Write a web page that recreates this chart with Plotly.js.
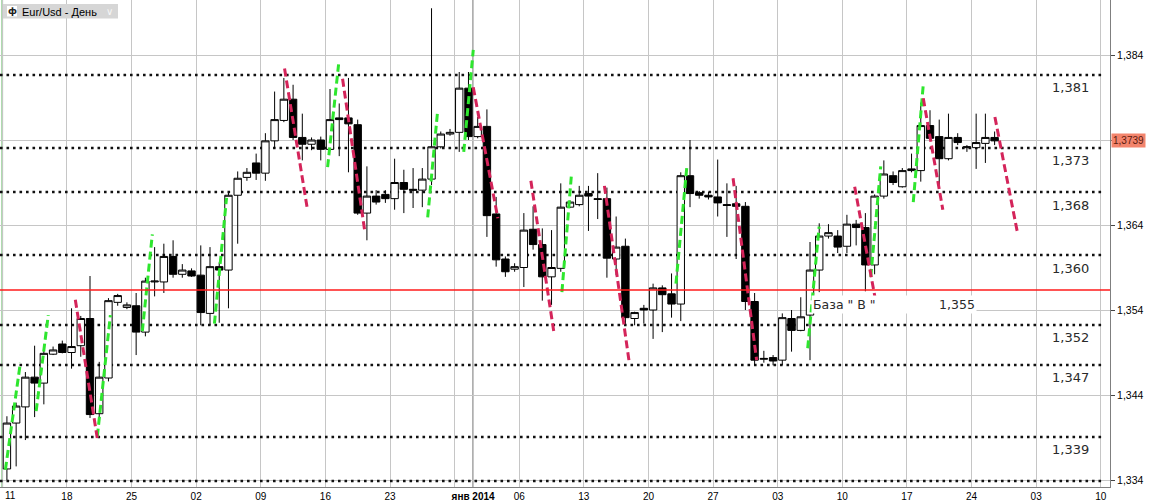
<!DOCTYPE html>
<html>
<head>
<meta charset="utf-8">
<script src="https://cdn.plot.ly/plotly-3.0.1.min.js"></script>
<style>html,body{margin:0;padding:0;background:#fff;}#chart{width:1150px;height:504px;}</style>
</head>
<body>
<div id="chart"></div>
<script>
// ---- data: daily EUR/USD candles from 2013-11-11 (one per calendar day) ----
const firstDay = [2013, 10, 11]; // 11 Nov 2013
const open  = [1.3353,1.3407,1.3426,1.3461,1.3454,1.3488,1.3500,1.3490,1.3498,1.3530,
               1.3418,1.3460,1.3549,1.3543,1.3545,1.3514,1.3573,1.3573,1.3603,1.3582,
               1.3586,1.3581,1.3536,1.3591,1.3587,1.3675,1.3696,1.3713,1.3701,1.3739,
               1.3763,1.3788,1.3743,1.3735,1.3740,1.3729,1.3766,1.3766,1.3758,1.3654,
               1.3674,1.3676,1.3671,1.3690,1.3682,1.3681,1.3694,1.3732,1.3747,1.3749,
               1.3801,1.3744,1.3756,1.3653,1.3600,1.3588,1.3590,1.3635,1.3617,1.3579,
               1.3589,1.3661,1.3664,1.3677,1.3671,1.3671,1.3600,1.3615,1.3530,1.3542,
               1.3540,1.3566,1.3559,1.3547,1.3698,1.3678,1.3675,1.3673,1.3664,1.3665,
               1.3662,1.3550,1.3482,1.3484,1.3481,1.3530,1.3516,1.3534,1.3587,1.3627,
               1.3627,1.3615,1.3641,1.3637,1.3593,1.3674,1.3698,1.3685,1.3706,1.3704,
               1.3757,1.3744,1.3718,1.3743,1.3731,1.3731,1.3736,1.3743];
const high  = [1.3415,1.3431,1.3467,1.3498,1.3493,1.3497,1.3504,1.3542,1.3533,1.3580,
               1.3479,1.3554,1.3559,1.3549,1.3560,1.3578,1.3614,1.3618,1.3622,1.3594,
               1.3589,1.3616,1.3614,1.3596,1.3678,1.3703,1.3707,1.3724,1.3748,1.3797,
               1.3813,1.3805,1.3771,1.3743,1.3744,1.3800,1.3783,1.3813,1.3764,1.3709,
               1.3681,1.3681,1.3718,1.3705,1.3707,1.3707,1.3895,1.3750,1.3753,1.3820,
               1.3820,1.3767,1.3776,1.3673,1.3603,1.3595,1.3654,1.3662,1.3636,1.3634,
               1.3689,1.3669,1.3686,1.3686,1.3701,1.3684,1.3650,1.3624,1.3538,1.3546,
               1.3571,1.3569,1.3583,1.3702,1.3740,1.3680,1.3679,1.3717,1.3689,1.3686,
               1.3667,1.3560,1.3492,1.3487,1.3536,1.3540,1.3555,1.3620,1.3642,1.3641,
               1.3634,1.3652,1.3646,1.3654,1.3676,1.3716,1.3703,1.3707,1.3724,1.3784,
               1.3775,1.3764,1.3771,1.3748,1.3734,1.3771,1.3771,1.3750];
const low   = [1.3340,1.3356,1.3387,1.3414,1.3429,1.3487,1.3489,1.3471,1.3485,1.3413,
               1.3407,1.3456,1.3545,1.3541,1.3487,1.3509,1.3556,1.3560,1.3578,1.3578,
               1.3579,1.3522,1.3522,1.3525,1.3542,1.3618,1.3692,1.3693,1.3692,1.3730,
               1.3761,1.3740,1.3716,1.3728,1.3716,1.3728,1.3721,1.3702,1.3652,1.3622,
               1.3664,1.3666,1.3658,1.3654,1.3660,1.3661,1.3687,1.3730,1.3745,1.3726,
               1.3740,1.3742,1.3626,1.3591,1.3579,1.3585,1.3567,1.3611,1.3551,1.3546,
               1.3585,1.3660,1.3662,1.3633,1.3647,1.3578,1.3581,1.3522,1.3522,1.3524,
               1.3506,1.3514,1.3531,1.3527,1.3661,1.3671,1.3670,1.3650,1.3626,1.3600,
               1.3540,1.3475,1.3478,1.3475,1.3475,1.3491,1.3515,1.3481,1.3561,1.3624,
               1.3607,1.3607,1.3616,1.3562,1.3582,1.3671,1.3687,1.3684,1.3702,1.3691,
               1.3740,1.3685,1.3716,1.3734,1.3726,1.3706,1.3713,1.3734];
const close = [1.3407,1.3427,1.3461,1.3454,1.3489,1.3493,1.3490,1.3497,1.3530,1.3417,
               1.3461,1.3551,1.3557,1.3546,1.3514,1.3574,1.3574,1.3603,1.3582,1.3587,
               1.3580,1.3537,1.3591,1.3587,1.3675,1.3695,1.3702,1.3701,1.3739,1.3764,
               1.3788,1.3743,1.3735,1.3740,1.3729,1.3764,1.3764,1.3759,1.3654,1.3674,
               1.3667,1.3671,1.3690,1.3682,1.3681,1.3694,1.3732,1.3747,1.3749,1.3801,
               1.3744,1.3756,1.3651,1.3599,1.3585,1.3591,1.3634,1.3617,1.3579,1.3590,
               1.3661,1.3667,1.3675,1.3674,1.3670,1.3601,1.3614,1.3531,1.3537,1.3540,
               1.3566,1.3558,1.3547,1.3698,1.3677,1.3675,1.3673,1.3666,1.3663,1.3662,
               1.3550,1.3481,1.3483,1.3480,1.3531,1.3516,1.3532,1.3587,1.3627,1.3631,
               1.3614,1.3641,1.3637,1.3593,1.3674,1.3700,1.3690,1.3704,1.3704,1.3757,
               1.3742,1.3718,1.3743,1.3737,1.3732,1.3737,1.3743,1.3739];

// green (up) dashed segments: [fromTime, fromPrice, toTime, toPrice]
const greenSegments = [
  ['2013-11-11 08:00',1.3352,'2013-11-12 23:00',1.3478],
  ['2013-11-14 16:00',1.3421,'2013-11-15 23:30',1.3534],
  ['2013-11-21 07:00',1.3391,'2013-11-22 17:00',1.3534],
  ['2013-11-26 04:00',1.3515,'2013-11-27 06:00',1.3629],
  ['2013-12-03 23:30',1.3524,'2013-12-05 07:00',1.3672],
  ['2013-12-16 05:45',1.3708,'2013-12-17 10:20',1.3829],
  ['2013-12-27 02:00',1.3649,'2013-12-28 04:00',1.3775],
  ['2013-12-30 23:45',1.3726,'2014-01-01 00:30',1.3846],
  ['2014-01-10 15:00',1.3561,'2014-01-11 15:30',1.3698],
  ['2014-01-22 23:30',1.3571,'2014-01-24 04:20',1.3711],
  ['2014-02-06 06:00',1.3495,'2014-02-07 11:45',1.3638],
  ['2014-02-13 02:00',1.3579,'2014-02-14 03:50',1.3709],
  ['2014-02-17 16:30',1.3667,'2014-02-18 18:30',1.3805]
];
// crimson (down) dashed segments
const redSegments = [
  ['2013-11-18 21:50',1.3552,'2013-11-21 07:00',1.3389],
  ['2013-12-11 13:50',1.3824,'2013-12-14 00:20',1.3661],
  ['2013-12-17 20:40',1.3812,'2013-12-20 06:00',1.3634],
  ['2014-01-01 00:30',1.3802,'2014-01-03 16:20',1.3648],
  ['2014-01-07 06:15',1.3692,'2014-01-09 18:00',1.3514],
  ['2014-01-15 05:30',1.3686,'2014-01-17 21:10',1.3481],
  ['2014-01-29 04:00',1.3695,'2014-01-31 17:15',1.3481],
  ['2014-02-11 08:10',1.3685,'2014-02-13 16:10',1.3547],
  ['2014-02-18 18:30',1.3789,'2014-02-20 21:20',1.3658],
  ['2014-02-26 12:45',1.3767,'2014-02-28 23:20',1.3631]
];

// horizontal dotted levels and their labels
const levels      = [1.38165, 1.37306, 1.36788, 1.36047, 1.35224, 1.34753, 1.33906, 1.33388];
const levelLabels = ['1,381', '1,373', '1,368', '1,360', '1,352', '1,347', '1,339', ''];
const baseLevel = 1.35635;
const baseLabel = 'База " В "';
const baseValue = '1,355';
const lastPrice = 1.3739;
const lastPriceLabel = '1,3739';

// price axis ticks
const priceTicks  = [1.334, 1.344, 1.354, 1.364, 1.374, 1.384];
const priceLabels = ['1,334', '1,344', '1,354', '1,364', '', '1,384'];

// x-axis ticks (Mondays) and labels
const weekTicks  = ['2013-11-11','2013-11-18','2013-11-25','2013-12-02','2013-12-09','2013-12-16',
                    '2013-12-23','2013-12-30','2014-01-06','2014-01-13','2014-01-20','2014-01-27',
                    '2014-02-03','2014-02-10','2014-02-17','2014-02-24','2014-03-03','2014-03-10'];
const weekLabels = ['','18','25','02','09','16','23','','06','13','20','27','03','10','17','24','03','10'];
const firstLabel = '11';
const yearTick = '2014-01-01';
const yearLabel = 'янв 2014';
const chartTitle = 'Eur/Usd - День';

// ---- build ----
const dates = open.map((_, i) => {
  const d = new Date(Date.UTC(firstDay[0], firstDay[1], firstDay[2] + i, 12));
  return d.toISOString().slice(0, 16).replace('T', ' ');
});

function segTrace(segs, color) {
  const x = [], y = [];
  segs.forEach(s => { x.push(s[0], s[2], null); y.push(s[1], s[3], null); });
  return {type:'scatter', mode:'lines', x, y, hoverinfo:'skip',
          line:{color, width:3, dash:'8px,4px'}, connectgaps:false};
}

const xStart = '2013-11-10 18:00', xEnd = '2014-03-11 00:00', dotEnd = '2014-03-10 11:00';

const traces = [
  {type:'candlestick', x:dates, open, high, low, close, hoverinfo:'skip',
   whiskerwidth:0,
   increasing:{line:{color:'#000', width:1}, fillcolor:'#ffffff'},
   decreasing:{line:{color:'#000', width:1}, fillcolor:'#000000'}},
  segTrace(greenSegments, '#2ee62e'),
  segTrace(redSegments, '#d4245a')
];

const P = (px) => px / 1110;          // plot-area fraction helpers for the title badge
const Q = (py) => 1 - py / 487;

const shapes = [];
levels.forEach(v => shapes.push({type:'line', xref:'x', yref:'y', x0:xStart, x1:dotEnd, y0:v, y1:v,
  layer:'between', line:{color:'#111', width:2.6, dash:'2.6px,3.9px'}}));
shapes.push({type:'line', xref:'x', yref:'paper', x0:yearTick, x1:yearTick, y0:0, y1:1,
  layer:'between', line:{color:'#737373', width:1.3}});
shapes.push({type:'line', xref:'x', yref:'paper', x0:weekTicks[0], x1:weekTicks[0], y0:0, y1:1,
  layer:'between', line:{color:'#4cb04c', width:1.5}});
shapes.push({type:'line', xref:'paper', yref:'y', x0:0, x1:1, y0:baseLevel, y1:baseLevel,
  layer:'above', line:{color:'#ff1a1a', width:1.4}});
// title badge background and icon square
shapes.push({type:'rect', xref:'paper', yref:'paper', x0:P(3), x1:P(118), y0:Q(18.5), y1:Q(4),
  layer:'above', line:{width:0}, fillcolor:'#d6d6d6'});
shapes.push({type:'rect', xref:'paper', yref:'paper', x0:P(7), x1:P(17), y0:Q(16.5), y1:Q(6),
  layer:'above', line:{width:0}, fillcolor:'#ffffff'});

const lblFont = {family:'DejaVu Sans, Verdana, sans-serif', size:13, color:'#2a2a2a'};
const annotations = [];
levels.forEach((v, k) => {
  if (!levelLabels[k]) return;
  annotations.push({xref:'paper', yref:'y', x:1070/1110, y:v, yshift:-13, text:levelLabels[k],
    showarrow:false, font:lblFont, bgcolor:'#ffffff', xanchor:'center', yanchor:'middle', borderpad:0});
});
annotations.push({xref:'paper', yref:'y', x:894/1110, y:baseLevel, yshift:-14,
  text: baseLabel + '\u00a0'.repeat(16) + baseValue, showarrow:false,
  font:{family:'DejaVu Sans, Verdana, sans-serif', size:12.5, color:'#2a2a2a'},
  bgcolor:'#ffffff', xanchor:'center', yanchor:'middle', borderpad:1});
annotations.push({xref:'paper', yref:'y', x:1, xshift:1, y:lastPrice, text:lastPriceLabel,
  showarrow:false, xanchor:'left', yanchor:'middle', bgcolor:'#f3846c', borderpad:1,
  font:{family:'Liberation Sans, Arial, sans-serif', size:10, color:'#5a1a0e'}});
annotations.push({xref:'paper', yref:'paper', x:P(21), y:Q(11.5), xanchor:'left', yanchor:'middle',
  text:chartTitle, showarrow:false, borderpad:0,
  font:{family:'Liberation Sans, Arial, sans-serif', size:11, color:'#000'}});
annotations.push({xref:'paper', yref:'paper', x:P(12), y:Q(11.3), xanchor:'center', yanchor:'middle',
  text:'<b>ф</b>', showarrow:false, borderpad:0,
  font:{family:'DejaVu Sans, sans-serif', size:9, color:'#222'}});
annotations.push({xref:'paper', yref:'paper', x:P(109), y:Q(11.5), xanchor:'center', yanchor:'middle',
  text:'∨', showarrow:false, borderpad:0, font:{family:'DejaVu Sans, sans-serif', size:10, color:'#f6f6f6'}});
annotations.push({xref:'paper', yref:'paper', x:P(3), y:0, yshift:-1, xanchor:'left', yanchor:'top',
  text:firstLabel, showarrow:false, font:{family:'Liberation Sans, Arial, sans-serif', size:10, color:'#000'}});

const tickvals = weekTicks.concat([yearTick]);
const ticktext = weekLabels.concat(['<b>' + yearLabel + '</b>']);

const layout = {
  width:1150, height:504,
  margin:{l:0, r:40, t:0, b:17, pad:0},
  paper_bgcolor:'#ffffff', plot_bgcolor:'#ffffff',
  showlegend:false,
  separators:', ',
  boxgap:0.2, boxgroupgap:0,
  xaxis:{type:'date', range:[xStart, xEnd], tickmode:'array', tickvals, ticktext,
         showgrid:true, gridcolor:'#c6c6c6', gridwidth:1, zeroline:false,
         showline:true, linecolor:'#7f7f7f', linewidth:1, ticks:'',
         tickfont:{family:'Liberation Sans, Arial, sans-serif', size:10, color:'#000'},
         rangeslider:{visible:false}, fixedrange:true},
  yaxis:{side:'right', range:[1.333176, 1.390471], tickmode:'array', tickvals:priceTicks, ticktext:priceLabels,
         showgrid:true, gridcolor:'#c6c6c6', gridwidth:1, zeroline:false,
         showline:true, linecolor:'#7f7f7f', linewidth:1, ticks:'outside', ticklen:4, tickcolor:'#444',
         tickfont:{family:'Liberation Sans, Arial, sans-serif', size:10.5, color:'#000'}, fixedrange:true},
  shapes, annotations
};

Plotly.newPlot('chart', traces, layout, {staticPlot:true, displayModeBar:false});
</script>
</body>
</html>
